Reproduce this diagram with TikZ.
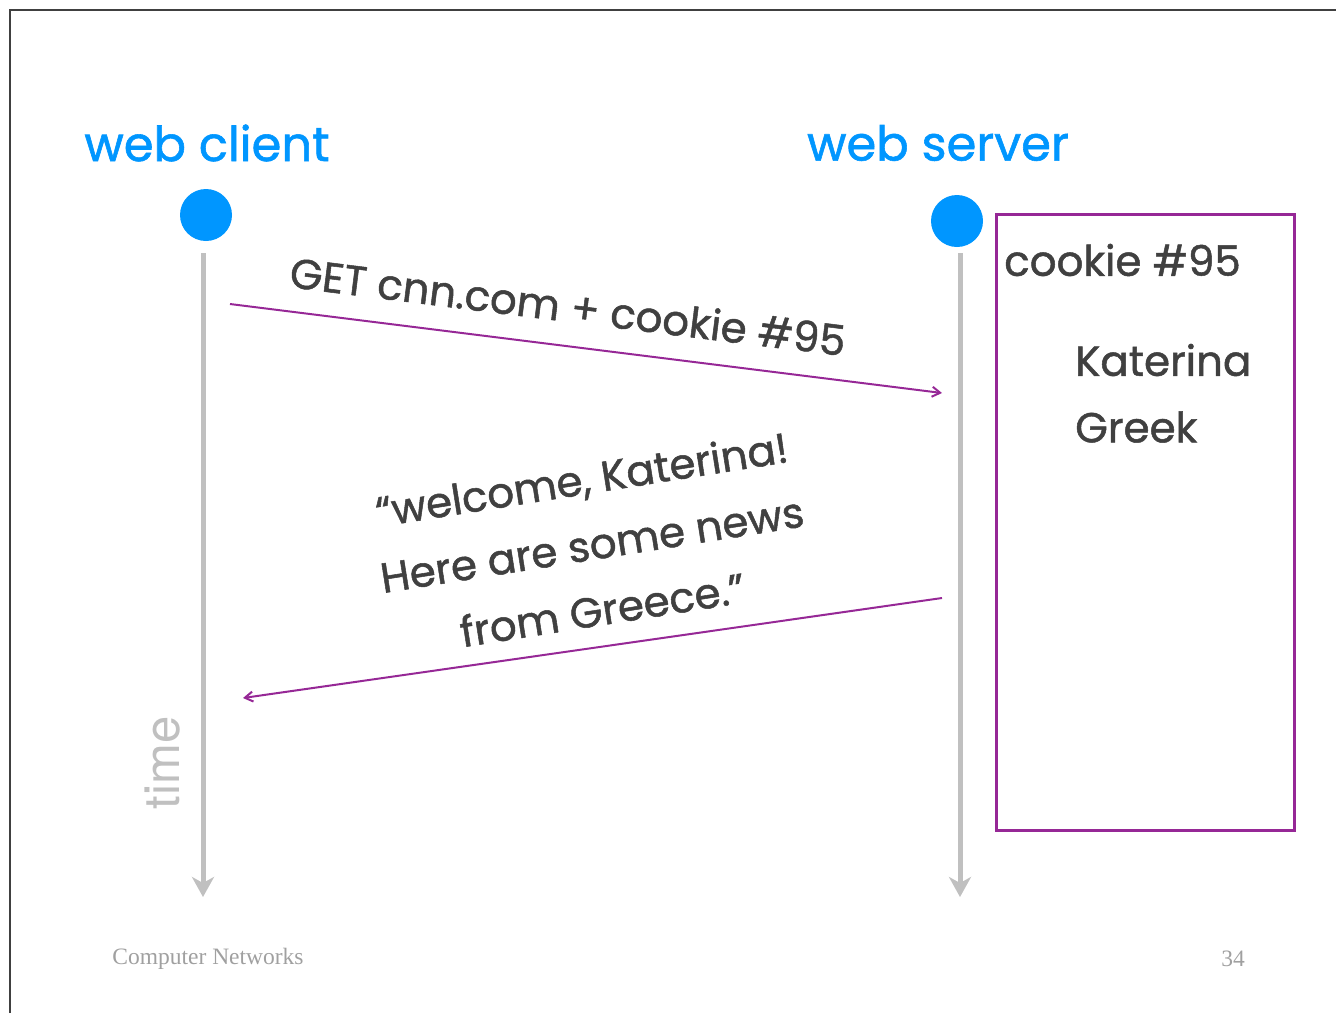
\documentclass[tikz,border=0pt]{standalone}
\usepackage{fontspec}
\setmainfont{Poppins}[FakeBold=1.2]
\newfontfamily\serifft{Liberation Serif}
\newfontfamily\heros{TeX Gyre Heros}
\usetikzlibrary{arrows.meta}
\definecolor{webblue}{RGB}{0,150,255}
\definecolor{cpurple}{RGB}{150,40,150}
\definecolor{txtgray}{RGB}{64,64,64}
\definecolor{linegray}{RGB}{192,192,192}
\definecolor{footgray}{RGB}{160,160,160}
\tikzset{
  title/.style={text=webblue, font=\fontsize{48}{56}\selectfont, inner sep=0pt},
  dot/.style={circle, fill=webblue, minimum size=52pt, inner sep=0pt},
  lifeline/.style={draw=linegray, line width=5pt, -{Stealth[length=20pt,width=22pt,inset=6pt]}},
  msg/.style={draw=cpurple, line width=2pt, -{Straight Barb[length=8pt,width=10pt]}},
  msgtext/.style={text=txtgray, font=\fontsize{42}{66}\selectfont, inner sep=0pt, align=center},
  boxtext/.style={text=txtgray, font=\fontsize{42}{46}\selectfont, inner sep=0pt, anchor=west},
  foot/.style={text=footgray, font=\serifft\fontsize{23.5}{26}\selectfont, inner sep=0pt},
}
\begin{document}
\begin{tikzpicture}[x=1pt, y=-1pt]
\useasboundingbox (0,0) rectangle (1336,1013);
% frame
\draw[draw=black!75, line width=1.2pt] (10,1013) -- (10,10) -- (1336,10);
% titles
\node[title] (tc) at (207,143) {web client};
\node[title] (ts) at (938,143) {web server};
% dots
\node[dot] (dc) at (206,215) {};
\node[dot] (ds) at (957,221) {};
% lifelines
\coordinate (cs) at (203,253);
\coordinate (ce) at (203,897);
\coordinate (ss) at (960,253);
\coordinate (se) at (960,897);
\draw[lifeline] (cs) -- (ce);
\draw[lifeline] (ss) -- (se);
% time label
\node[text=linegray, font=\heros\fontsize{49}{52}\selectfont, rotate=90, inner sep=0pt] (time) at (163,763) {time};
% cookie box
\node[draw=cpurple, line width=3pt, minimum width=298pt, minimum height=616pt, anchor=north west, inner sep=0pt] (box) at (995,213) {};
\node[boxtext] (ck) at (1004,260) {cookie \#95};
\node[boxtext] (kat) at (1075,360) {Katerina};
\node[boxtext] (gr) at (1075,427) {Greek};
% messages
\coordinate (m1s) at (230,304);
\coordinate (m1e) at (942,393);
\draw[msg] (m1s) -- (m1e);
\node[msgtext, rotate=-7.1] (l1) at (568,306) {GET cnn.com + cookie \#95};
\coordinate (m2s) at (942,598);
\coordinate (m2e) at (243,698);
\draw[msg] (m2s) -- (m2e);
\node[msgtext, rotate=9] (l2) at (592,544) {“welcome, Katerina!\\Here are some news\\from Greece.”};
% footer
\node[foot] (fl) at (208,959) {Computer Networks};
\node[foot] (fr) at (1233,959) {34};
\end{tikzpicture}
\end{document}
